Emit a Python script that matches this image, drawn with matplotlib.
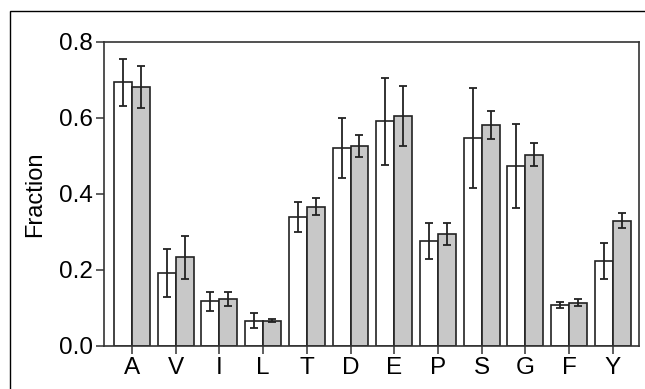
import numpy as np
import matplotlib
matplotlib.use("Agg")
import matplotlib.pyplot as plt
from matplotlib.patches import Rectangle

plt.rcParams['font.family'] = ['Liberation Sans', 'DejaVu Sans']

residues = ['A', 'V', 'I', 'L', 'T', 'D', 'E', 'P', 'S', 'G', 'F', 'Y']
white_vals = [0.694, 0.193, 0.118, 0.067, 0.340, 0.521, 0.591, 0.276, 0.547, 0.474, 0.107, 0.224]
white_err = [0.062, 0.063, 0.025, 0.020, 0.039, 0.080, 0.114, 0.048, 0.132, 0.110, 0.008, 0.047]
gray_vals = [0.682, 0.233, 0.124, 0.067, 0.367, 0.526, 0.605, 0.295, 0.582, 0.503, 0.114, 0.330]
gray_err = [0.055, 0.057, 0.018, 0.003, 0.023, 0.028, 0.079, 0.029, 0.037, 0.030, 0.010, 0.020]

edge = '#222222'
x = np.arange(len(residues))
w = 0.41

fig = plt.figure(figsize=(6.45, 3.89), dpi=100)
ax = fig.add_axes([104 / 645, 1 - 346 / 389, (639 - 104) / 645, (346 - 42) / 389])

# outer frame (cut off at right and bottom as in the original)
fig.patches.append(Rectangle((10 / 645, -0.1), 1.1, 1 - 11 / 389 + 0.1,
                             transform=fig.transFigure, fill=False,
                             edgecolor='black', linewidth=1.0))

ekw = dict(ecolor=edge, elinewidth=1.3, capthick=1.3)
ax.bar(x - w / 2, white_vals, w, color='white', edgecolor=edge, linewidth=1.2,
       yerr=white_err, capsize=3, error_kw=ekw, zorder=2)
ax.bar(x + w / 2, gray_vals, w, color='#c8c8c8', edgecolor=edge, linewidth=1.2,
       yerr=gray_err, capsize=3, error_kw=ekw, zorder=2)

ax.set_xlim(-0.64, 11.6)
ax.set_ylim(0, 0.8)
ax.set_yticks([0.0, 0.2, 0.4, 0.6, 0.8])
ax.set_yticklabels(['0.0', '0.2', '0.4', '0.6', '0.8'])
ax.set_xticks(x)
ax.set_xticklabels(residues)
ax.tick_params(axis='both', direction='out', length=6, width=1.1,
               color='#333333', labelsize=17.5, pad=2)
for s in ax.spines.values():
    s.set_color('#333333')
    s.set_linewidth(1.2)
ax.set_ylabel('Fraction', fontsize=17)
ax.yaxis.set_label_coords(-(104 - 46) / (639 - 104), 0.5)

fig.savefig('out.png', dpi=100)
